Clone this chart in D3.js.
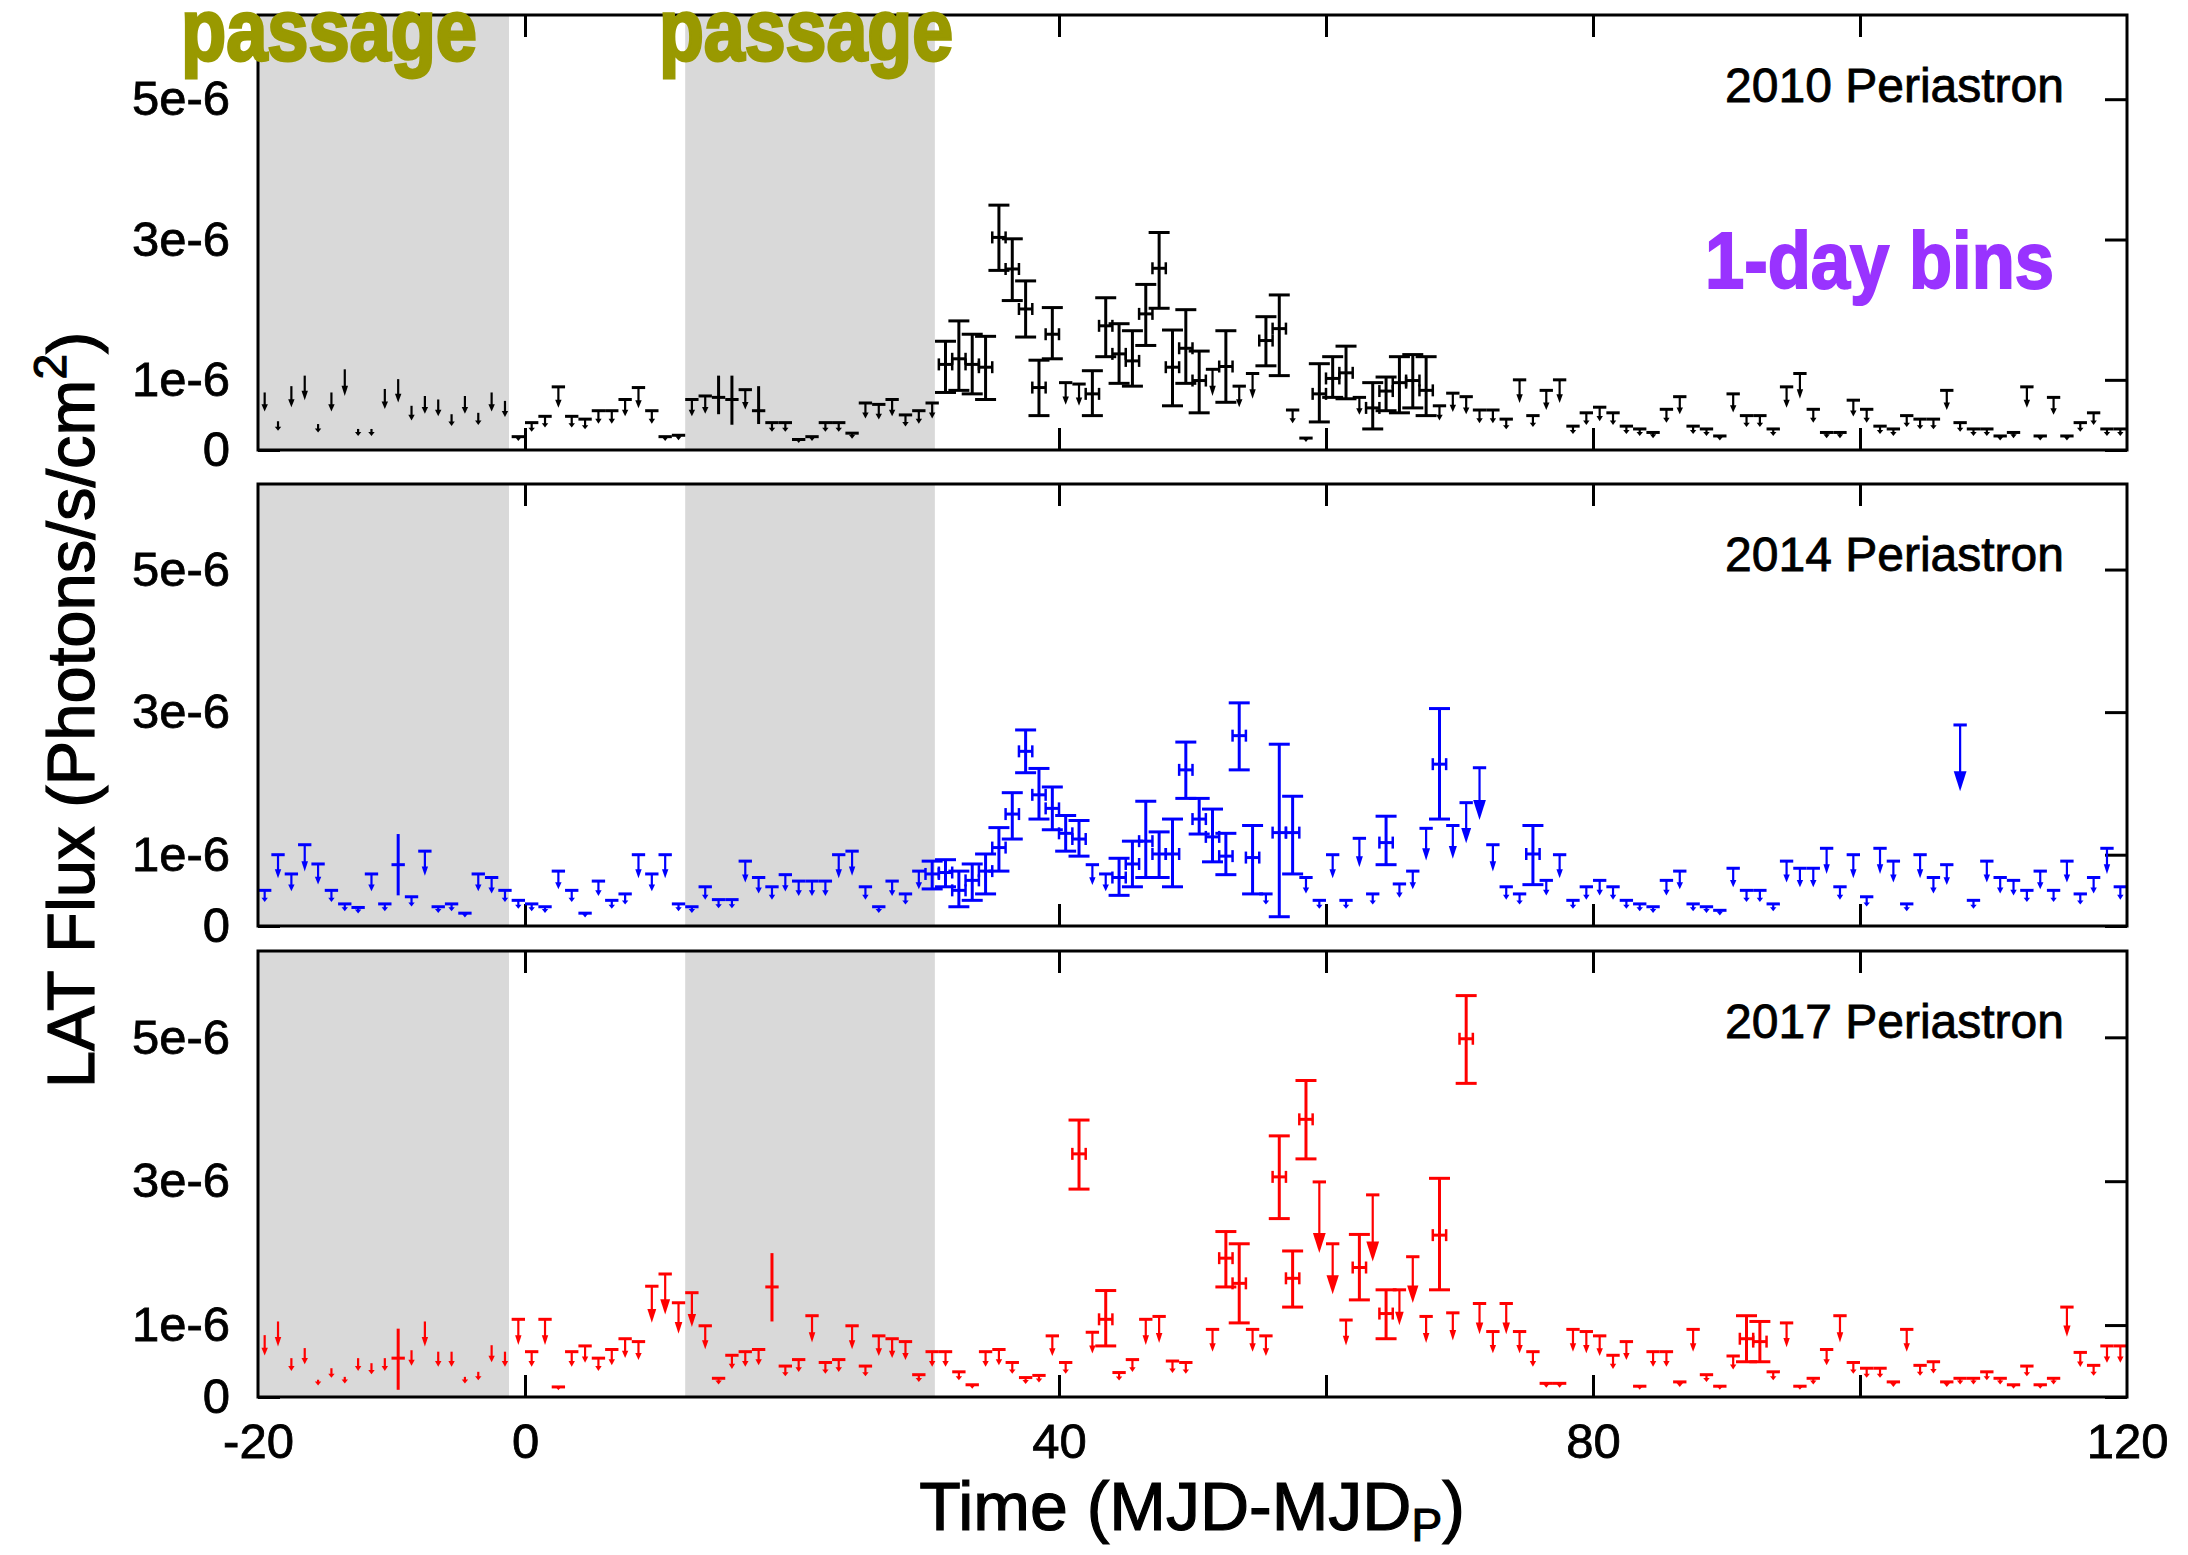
<!DOCTYPE html>
<html>
<head>
<meta charset="utf-8">
<script src="https://cdn.jsdelivr.net/npm/d3@7"></script>
<style>
  html, body { margin: 0; padding: 0; background: #fff; }
  svg { display: block; }
</style>
</head>
<body>
<svg id="chart" width="2188" height="1555"></svg>
<script>
// Fermi-LAT 1-day light curves around periastron, flux in units of 1e-6 photons/s/cm^2.
// Each entry: [day, flux, lower, upper]; entries with only [day, flux] are upper limits.
const lc2010 = [
  [-19.5,0.82],[-18.5,0.41],[-17.5,0.91],[-16.5,1.06],[-15.5,0.37],[-14.5,0.82],[-13.5,1.15],[-12.5,0.30],[-11.5,0.30],[-10.5,0.87],
  [-9.5,1.01],[-8.5,0.63],[-7.5,0.77],[-6.5,0.72],[-5.5,0.51],[-4.5,0.77],[-3.5,0.53],[-2.5,0.82],[-1.5,0.70],[-0.5,0.19],
  [0.5,0.39],[1.5,0.48],[2.5,0.90],[3.5,0.48],[4.5,0.44],[5.5,0.56],[6.5,0.56],[7.5,0.72],[8.5,0.89],[9.5,0.56],
  [10.5,0.19],[11.5,0.21],[12.5,0.72],[13.5,0.77],[14.5,0.75,0.51,1.06],[15.5,0.72,0.36,1.06],[16.5,0.86],[17.5,0.56,0.37,0.91],[18.5,0.39],[19.5,0.39],
  [20.5,0.15],[21.5,0.19],[22.5,0.39],[23.5,0.39],[24.5,0.24],[25.5,0.67],[26.5,0.65],[27.5,0.72],[28.5,0.50],[29.5,0.56],
  [30.5,0.67],[31.5,1.22,0.82,1.55],[32.5,1.30,0.85,1.84],[33.5,1.22,0.80,1.65],[34.5,1.18,0.72,1.62],[35.5,3.03,2.56,3.49],[36.5,2.58,2.13,3.01],[37.5,2.01,1.61,2.41],[38.5,0.89,0.49,1.28],[39.5,1.65,1.30,2.03],
  [40.5,0.96],[41.5,0.94],[42.5,0.80,0.49,1.13],[43.5,1.77,1.33,2.17],[44.5,1.37,0.95,1.80],[45.5,1.27,0.91,1.70],[46.5,1.94,1.49,2.36],[47.5,2.59,2.02,3.10],[48.5,1.18,0.63,1.71],[49.5,1.45,0.95,2.00],
  [50.5,0.99,0.53,1.41],[51.5,1.15],[52.5,1.19,0.68,1.70],[53.5,0.91],[54.5,1.09],[55.5,1.56,1.20,1.90],[56.5,1.73,1.06,2.21],[57.5,0.57],[58.5,0.17],[59.5,0.80,0.40,1.23],
  [60.5,1.02,0.75,1.33],[61.5,1.10,0.73,1.48],[62.5,0.75],[63.5,0.60,0.30,0.96],[64.5,0.84,0.56,1.04],[65.5,0.96,0.53,1.33],[66.5,0.99,0.60,1.36],[67.5,0.85,0.49,1.33],[68.5,0.63],[69.5,0.81],
  [70.5,0.76],[71.5,0.57],[72.5,0.57],[73.5,0.44],[74.5,1.00],[75.5,0.49],[76.5,0.85],[77.5,1.00],[78.5,0.34],[79.5,0.53],
  [80.5,0.61],[81.5,0.53],[82.5,0.34],[83.5,0.30],[84.5,0.25],[85.5,0.58],[86.5,0.76],[87.5,0.34],[88.5,0.30],[89.5,0.20],
  [90.5,0.80],[91.5,0.49],[92.5,0.49],[93.5,0.30],[94.5,0.90],[95.5,1.09],[96.5,0.58],[97.5,0.25],[98.5,0.25],[99.5,0.71],
  [100.5,0.58],[101.5,0.34],[102.5,0.30],[103.5,0.49],[104.5,0.44],[105.5,0.44],[106.5,0.85],[107.5,0.39],[108.5,0.30],[109.5,0.30],
  [110.5,0.20],[111.5,0.25],[112.5,0.90],[113.5,0.20],[114.5,0.75],[115.5,0.20],[116.5,0.39],[117.5,0.53],[118.5,0.30],[119.5,0.30]
];

const lc2014 = [
  [-19.5,0.50],[-18.5,1.00],[-17.5,0.73],[-16.5,1.14],[-15.5,0.87],[-14.5,0.50],[-13.5,0.31],[-12.5,0.26],[-11.5,0.73],[-10.5,0.31],
  [-9.5,0.86,0.43,1.29],[-8.5,0.41],[-7.5,1.05],[-6.5,0.27],[-5.5,0.31],[-4.5,0.18],[-3.5,0.73],[-2.5,0.68],[-1.5,0.50],[-0.5,0.36],
  [0.5,0.31],[1.5,0.27],[2.5,0.77],[3.5,0.50],[4.5,0.18],[5.5,0.63],[6.5,0.36],[7.5,0.45],[8.5,1.00],[9.5,0.73],
  [10.5,1.00],[11.5,0.31],[12.5,0.27],[13.5,0.55],[14.5,0.37],[15.5,0.37],[16.5,0.91],[17.5,0.68],[18.5,0.55],[19.5,0.72],
  [20.5,0.63],[21.5,0.63],[22.5,0.63],[23.5,1.00],[24.5,1.05],[25.5,0.55],[26.5,0.27],[27.5,0.63],[28.5,0.45],[29.5,0.77],
  [30.5,0.73,0.52,0.91],[31.5,0.75,0.55,0.93],[32.5,0.50,0.27,0.77],[33.5,0.64,0.36,0.87],[34.5,0.77,0.45,1.01],[35.5,1.10,0.77,1.38],[36.5,1.57,1.22,1.87],[37.5,2.45,2.15,2.75],[38.5,1.84,1.50,2.21],[39.5,1.65,1.35,1.95],
  [40.5,1.30,1.05,1.55],[41.5,1.22,0.98,1.48],[42.5,0.86],[43.5,0.73],[44.5,0.68,0.43,0.95],[45.5,0.87,0.55,1.19],[46.5,1.19,0.68,1.75],[47.5,1.01,0.68,1.32],[48.5,1.01,0.55,1.50],[49.5,2.19,1.79,2.58],
  [50.5,1.50,1.29,1.79],[51.5,1.25,0.90,1.64],[52.5,0.98,0.72,1.30],[53.5,2.67,2.19,3.13],[54.5,0.96,0.45,1.41],[55.5,0.45],[56.5,1.31,0.13,2.55],[57.5,1.31,0.73,1.82],[58.5,0.68],[59.5,0.36],
  [60.5,1.00],[61.5,0.36],[62.5,1.23],[63.5,0.45],[64.5,1.17,0.86,1.54],[65.5,0.59],[66.5,0.77],[67.5,1.37],[68.5,2.27,1.50,3.05],[69.5,1.41],
  [70.5,1.73],[71.5,2.22],[72.5,1.14],[73.5,0.55],[74.5,0.45],[75.5,1.01,0.58,1.41],[76.5,0.64],[77.5,1.00],[78.5,0.36],[79.5,0.55],
  [80.5,0.64],[81.5,0.55],[82.5,0.36],[83.5,0.31],[84.5,0.27],[85.5,0.64],[86.5,0.77],[87.5,0.31],[88.5,0.27],[89.5,0.22],
  [90.5,0.81],[91.5,0.50],[92.5,0.50],[93.5,0.31],[94.5,0.91],[95.5,0.81],[96.5,0.81],[97.5,1.09],[98.5,0.55],[99.5,1.00],
  [100.5,0.41],[101.5,1.09],[102.5,0.91],[103.5,0.31],[104.5,1.00],[105.5,0.68],[106.5,0.86],[107.5,2.82],[108.5,0.36],[109.5,0.91],
  [110.5,0.68],[111.5,0.64],[112.5,0.50],[113.5,0.77],[114.5,0.50],[115.5,0.91],[116.5,0.45],[117.5,0.68],[118.5,1.09],[119.5,0.55]
];

const lc2017 = [
  [-19.5,0.86],[-18.5,1.05],[-17.5,0.54],[-16.5,0.68],[-15.5,0.24],[-14.5,0.40],[-13.5,0.28],[-12.5,0.54],[-11.5,0.47],[-10.5,0.54],
  [-9.5,0.54,0.10,0.95],[-8.5,0.65],[-7.5,1.05],[-6.5,0.63],[-5.5,0.63],[-4.5,0.28],[-3.5,0.35],[-2.5,0.72],[-1.5,0.63],[-0.5,1.08],
  [0.5,0.63],[1.5,1.08],[2.5,0.14],[3.5,0.63],[4.5,0.71],[5.5,0.54],[6.5,0.66],[7.5,0.81],[8.5,0.77],[9.5,1.54],
  [10.5,1.71],[11.5,1.31],[12.5,1.45],[13.5,0.99],[14.5,0.26],[15.5,0.58],[16.5,0.63],[17.5,0.66],[18.5,1.53,1.05,2.00],[19.5,0.43],
  [20.5,0.52],[21.5,1.13],[22.5,0.48],[23.5,0.52],[24.5,0.99],[25.5,0.43],[26.5,0.85],[27.5,0.81],[28.5,0.77],[29.5,0.31],
  [30.5,0.63],[31.5,0.63],[32.5,0.35],[33.5,0.17],[34.5,0.63],[35.5,0.66],[36.5,0.48],[37.5,0.27],[38.5,0.30],[39.5,0.85],
  [40.5,0.48],[41.5,3.38,2.89,3.85],[42.5,0.90],[43.5,1.08,0.71,1.48],[44.5,0.34],[45.5,0.52],[46.5,1.08],[47.5,1.12],[48.5,0.50],[49.5,0.48],
  [51.5,0.94],[52.5,1.93,1.53,2.30],[53.5,1.58,1.03,2.13],[54.5,0.94],[55.5,0.85],[56.5,3.06,2.48,3.63],[57.5,1.65,1.25,2.03],[58.5,3.86,3.31,4.40],[59.5,2.99],
  [60.5,2.13],[61.5,1.07],[62.5,1.80,1.35,2.26],[63.5,2.81],[64.5,1.16,0.81,1.49],[65.5,1.49],[66.5,1.95],[67.5,1.12],[68.5,2.25,1.49,3.04],[69.5,1.17],
  [70.5,4.98,4.36,5.58],[71.5,1.30],[72.5,0.91],[73.5,1.30],[74.5,0.91],[75.5,0.63],[76.5,0.19],[77.5,0.19],[78.5,0.94],[79.5,0.91],
  [80.5,0.85],[81.5,0.58],[82.5,0.77],[83.5,0.15],[84.5,0.63],[85.5,0.63],[86.5,0.21],[87.5,0.94],[88.5,0.31],[89.5,0.15],
  [90.5,0.57],[91.5,0.81,0.49,1.13],[92.5,0.77,0.49,1.05],[93.5,0.35],[94.5,1.03],[95.5,0.15],[96.5,0.26],[97.5,0.66],[98.5,1.13],[99.5,0.48],
  [100.5,0.40],[101.5,0.40],[102.5,0.21],[103.5,0.94],[104.5,0.44],[105.5,0.49],[106.5,0.21],[107.5,0.26],[108.5,0.26],[109.5,0.35],
  [110.5,0.26],[111.5,0.17],[112.5,0.43],[113.5,0.17],[114.5,0.26],[115.5,1.25],[116.5,0.62],[117.5,0.44],[118.5,0.71],[119.5,0.71]
];

const seriesData   = [lc2010, lc2014, lc2017];
const seriesNames  = ["2010 Periastron", "2014 Periastron", "2017 Periastron"];
const seriesColors = ["#000000", "#0000ff", "#ff0000"];
// day from which upper-limit bars are drawn (earlier bins show bare arrows)
const ulBarFrom    = [-1.2, -20, -1.2];
const diskPassages = [[-20, -1.2], [12, 30.7]];
const passageLabels = ["passage", "passage"];
const xTickValues  = [0, 20, 40, 60, 80, 100];
const xTickLabels  = [-20, 0, 40, 80, 120];
const yTickValues  = [0, 1, 3, 5];
const fluxDomain   = [0, 6.2];

// ---- layout ----
const xLeft = 258, xRight = 2127;
const panelBox = [[15, 450], [484, 926], [951, 1397]];
const capsFrom = 30;       // detections after this day carry end caps
const arrowFrac = 0.33;    // upper-limit arrow length as a fraction of the limit
const FONT = "'Liberation Sans', Arial, Helvetica, sans-serif";
const NARROW = "'Liberation Sans Narrow', 'Liberation Sans', Arial, sans-serif";

const svg = d3.select("#chart");
svg.append("rect").attr("width", 2188).attr("height", 1555).attr("fill", "#fff");

const x = d3.scaleLinear().domain([-20, 120]).range([xLeft, xRight]);

function styleTicks(sel) {
  sel.select(".domain").remove();
  sel.selectAll(".tick line").attr("stroke", "#000").attr("stroke-width", 3);
}

seriesData.forEach((data, k) => {
  const [top, bot] = panelBox[k];
  const color = seriesColors[k];
  const y = d3.scaleLinear().domain(fluxDomain).range([bot, top]);
  const g = svg.append("g").attr("class", "panel");

  // inward ticks on all four sides
  g.append("g").attr("transform", `translate(0,${bot})`)
    .call(d3.axisBottom(x).tickValues(xTickValues).tickSize(-22).tickFormat(""))
    .call(styleTicks);
  g.append("g").attr("transform", `translate(0,${top})`)
    .call(d3.axisTop(x).tickValues(xTickValues).tickSize(-22).tickFormat(""))
    .call(styleTicks);
  g.append("g").attr("transform", `translate(${xLeft},0)`)
    .call(d3.axisLeft(y).tickValues(yTickValues).tickSize(-22).tickFormat(""))
    .call(styleTicks);
  g.append("g").attr("transform", `translate(${xRight},0)`)
    .call(d3.axisRight(y).tickValues(yTickValues).tickSize(-22).tickFormat(""))
    .call(styleTicks);

  // disk passage bands
  g.selectAll("rect.band").data(diskPassages).join("rect")
    .attr("class", "band")
    .attr("x", d => x(d[0])).attr("width", d => x(d[1]) - x(d[0]))
    .attr("y", top).attr("height", bot - top)
    .attr("fill", "#d9d9d9");

  const marks = g.append("g").attr("stroke", color).attr("fill", color);

  data.forEach(d => {
    const cx = x(d[0]);
    const cy = y(d[1]);
    if (d.length === 4) {
      // detection with error bars
      const yl = y(d[2]), yh = y(d[3]);
      const x0 = x(d[0] - 0.5), x1 = x(d[0] + 0.5);
      marks.append("line").attr("x1", cx).attr("x2", cx).attr("y1", yl).attr("y2", yh).attr("stroke-width", 3);
      marks.append("line").attr("x1", x0).attr("x2", x1).attr("y1", cy).attr("y2", cy).attr("stroke-width", 3);
      if (d[0] > capsFrom) {
        [yl, yh].forEach(v => marks.append("line")
          .attr("x1", cx - 10.5).attr("x2", cx + 10.5).attr("y1", v).attr("y2", v).attr("stroke-width", 3));
        [x0, x1].forEach(v => marks.append("line")
          .attr("x1", v).attr("x2", v).attr("y1", cy - 6).attr("y2", cy + 6).attr("stroke-width", 2.5));
      }
    } else {
      // upper limit: bar plus downward arrow
      if (d[0] > ulBarFrom[k]) {
        marks.append("line")
          .attr("x1", x(d[0] - 0.5)).attr("x2", x(d[0] + 0.5))
          .attr("y1", cy).attr("y2", cy).attr("stroke-width", 3);
      }
      const tip = y(d[1] * (1 - arrowFrac));
      const len = tip - cy;
      const head = Math.min(Math.max(len * 0.38, 4), 20);
      const hw = Math.max(3.2, head * 0.32);
      marks.append("line").attr("x1", cx).attr("x2", cx)
        .attr("y1", cy).attr("y2", tip - head * 0.6).attr("stroke-width", 2.2);
      marks.append("path")
        .attr("d", `M${cx - hw},${tip - head}L${cx + hw},${tip - head}L${cx},${tip}Z`)
        .attr("stroke", "none");
    }
  });

  // frame
  g.append("rect")
    .attr("x", xLeft).attr("y", top).attr("width", xRight - xLeft).attr("height", bot - top)
    .attr("fill", "none").attr("stroke", "#000").attr("stroke-width", 3);

  // panel label
  g.append("text")
    .attr("x", 2064).attr("y", top + 87)
    .attr("text-anchor", "end")
    .attr("font-family", FONT).attr("font-size", 48)
    .attr("fill", "#000").attr("stroke", "#000").attr("stroke-width", 0.8)
    .text(seriesNames[k]);

  // y tick labels
  const yLab = g.append("g").attr("transform", `translate(${xLeft},0)`)
    .call(d3.axisLeft(y).tickValues(yTickValues).tickSize(0).tickPadding(28)
      .tickFormat(v => v === 0 ? "0" : `${v}e-6`));
  yLab.select(".domain").remove();
  yLab.selectAll("text")
    .attr("font-family", FONT).attr("font-size", 49)
    .attr("fill", "#000").attr("stroke", "#000").attr("stroke-width", 0.8);

  // x tick labels under the last panel
  if (k === seriesData.length - 1) {
    const xLab = g.append("g").attr("transform", `translate(0,${bot})`)
      .call(d3.axisBottom(x).tickValues(xTickLabels).tickSize(0).tickPadding(26)
        .tickFormat(v => String(v)));
    xLab.select(".domain").remove();
    xLab.selectAll("text")
      .attr("font-family", FONT).attr("font-size", 49)
      .attr("fill", "#000").attr("stroke", "#000").attr("stroke-width", 0.8);
  }
});

// axis titles
const yTitle = svg.append("text")
  .attr("transform", "translate(94,710) rotate(-90)")
  .attr("text-anchor", "middle")
  .attr("font-family", FONT).attr("font-size", 67)
  .attr("fill", "#000").attr("stroke", "#000").attr("stroke-width", 1.2);
yTitle.append("tspan").text("LAT Flux (Photons/s/cm");
yTitle.append("tspan").attr("dy", -28).attr("font-size", 46).text("2");
yTitle.append("tspan").attr("dy", 28).text(")");

const xTitle = svg.append("text")
  .attr("x", 1192).attr("y", 1530)
  .attr("text-anchor", "middle")
  .attr("font-family", FONT).attr("font-size", 68)
  .attr("fill", "#000").attr("stroke", "#000").attr("stroke-width", 1.2);
xTitle.append("tspan").text("Time (MJD-MJD");
xTitle.append("tspan").attr("dy", 11).attr("font-size", 46).text("P");
xTitle.append("tspan").attr("dy", -11).text(")");

// disk passage annotations
const passageX = [[181, 477], [659, 953]];
svg.selectAll("text.passage").data(passageLabels).join("text")
  .attr("class", "passage")
  .attr("x", (d, i) => passageX[i][0]).attr("y", 60)
  .attr("textLength", (d, i) => passageX[i][1] - passageX[i][0])
  .attr("lengthAdjust", "spacingAndGlyphs")
  .attr("font-family", NARROW).attr("font-weight", "bold").attr("font-size", 88)
  .attr("fill", "#999900").attr("stroke", "#999900").attr("stroke-width", 3)
  .text(d => d);

svg.append("text")
  .attr("x", 1705).attr("y", 288)
  .attr("textLength", 349).attr("lengthAdjust", "spacingAndGlyphs")
  .attr("font-family", NARROW).attr("font-weight", "bold").attr("font-size", 80)
  .attr("fill", "#9933ff").attr("stroke", "#9933ff").attr("stroke-width", 2)
  .text("1-day bins");
</script>
</body>
</html>
